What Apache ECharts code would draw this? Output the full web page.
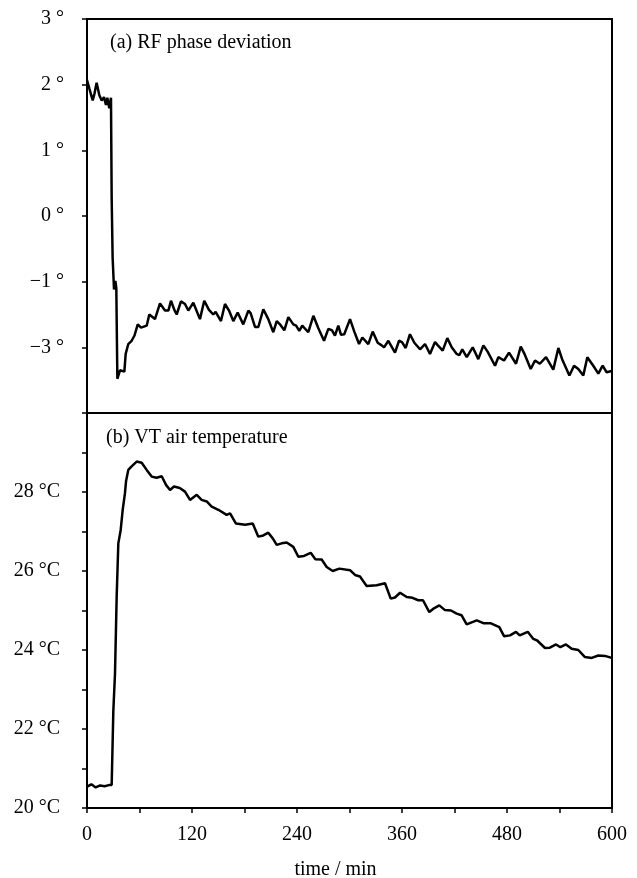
<!DOCTYPE html>
<html>
<head>
<meta charset="utf-8">
<script src="https://cdn.jsdelivr.net/npm/echarts@6/dist/echarts.min.js"></script>
<style>
  html, body { margin: 0; padding: 0; background: #fff; }
  #chart { width: 637px; height: 878px; }
</style>
</head>
<body>
<div id="chart"></div>
<script>
// (a) RF phase deviation, degrees
const phaseTime = [0, 2.7, 6.5, 8.5, 11, 14.1, 16.8, 19.4, 21.7, 23.2, 25.5, 27.4, 28.2, 29.3, 30.9, 32.4, 33.5, 34.7,
  37.7, 42.7, 44.2, 47.2, 51, 54.3, 58, 61.7, 68.2, 71.2, 77.7, 83.4, 89.1, 93, 96, 99.8, 102.5, 107.4,
  112, 115.8, 121.5, 129.1, 134, 139.4, 144.3, 147, 153.1, 157.7, 162.3, 167.2, 172.2, 178.6, 184.4, 187,
  192, 195.8, 201.5, 207.2, 212.9, 216.8, 220.5, 225.5, 230.1, 235.8, 239, 242.6, 246, 252.9, 258.7, 264.4,
  270.9, 275.8, 280, 283.4, 287.2, 290.3, 294, 300.6, 305.5, 310.9, 314.7, 321.5, 326.5, 332.2, 336.8, 339.5,
  344.4, 352, 356.6, 360, 364.2, 369.1, 374.1, 380.6, 386.3, 392, 397.7, 401, 406.5, 411.8, 416.8, 422.5,
  425.5, 428.9, 434, 440.8, 447.2, 453, 458, 466.3, 470.1, 476.6, 482.3, 490.3, 495.7, 500, 507.1, 512,
  517.5, 524.6, 532.9, 538.7, 543, 551.3, 556.6, 561.5, 567.2, 571.8, 578.6, 584.4, 589.3, 593.9, 599.6]
const phaseValue = [2.07, 1.94, 1.76, 1.86, 2.03, 1.84, 1.76, 1.81, 1.69, 1.80, 1.64, 1.80, 0.27, -0.64, -1.12, -0.99, -1.10, -2.48,
  -2.35, -2.37, -2.10, -1.95, -1.90, -1.82, -1.65, -1.70, -1.67, -1.50, -1.57, -1.33, -1.44, -1.44, -1.29, -1.43, -1.50, -1.30,
  -1.34, -1.44, -1.32, -1.57, -1.29, -1.43, -1.50, -1.46, -1.60, -1.34, -1.44, -1.60, -1.47, -1.65, -1.44, -1.48,
  -1.69, -1.69, -1.42, -1.57, -1.77, -1.60, -1.65, -1.74, -1.54, -1.65, -1.67, -1.75, -1.67, -1.77, -1.52, -1.71,
  -1.90, -1.72, -1.74, -1.82, -1.67, -1.81, -1.80, -1.57, -1.76, -1.95, -1.85, -1.95, -1.76, -1.93, -1.97, -2.00,
  -1.90, -2.08, -1.90, -1.92, -2.01, -1.80, -1.93, -2.03, -1.95, -2.10, -1.92, -1.97, -2.05, -1.86, -2.00, -2.10,
  -2.12, -2.03, -2.15, -2.00, -2.18, -1.97, -2.07, -2.28, -2.15, -2.20, -2.08, -2.25, -1.99, -2.10, -2.33, -2.20,
  -2.25, -2.15, -2.34, -2.01, -2.18, -2.43, -2.28, -2.33, -2.43, -2.15, -2.28, -2.40, -2.28, -2.38, -2.36]

// (b) VT air temperature, °C
const tempTime = [0, 5, 10, 15, 20, 25, 28.2, 30.1, 32, 33.9, 35.8, 38.5, 40.8, 43.4, 44.6, 47.2, 51, 56.8, 62.5, 68.2,
  73.9, 79.5, 85.4, 90.3, 94.9, 99.4, 106, 112, 117.7, 125.4, 131, 136.8, 142.5, 150.1, 159.6, 163.5, 170.3, 180.6,
  189.4, 195.8, 201.5, 207.2, 212.5, 216.8, 222.5, 228.2, 235.8, 241.5, 248, 255.7, 261, 268.2, 273.9, 280.8, 288.4,
  300.6, 306.3, 312, 319.6, 331, 340.6, 347.1, 352, 357.8, 365.4, 372, 378.6, 384, 391.2, 395.5, 402.6, 409.1, 416,
  422.5, 428, 433.9, 445.4, 453, 461, 471.2, 476.6, 483.5, 490.3, 494.5, 503.7, 510.1, 514.5, 523.4, 529, 536, 541,
  547.4, 553.9, 561.5, 569.1, 576.8, 584.4, 592, 599.6]
const tempValue = [20.54, 20.60, 20.52, 20.57, 20.55, 20.58, 20.58, 22.46, 23.4, 25.34, 26.7, 27.04, 27.55, 27.97, 28.27, 28.56, 28.65, 28.77, 28.74, 28.56,
  28.39, 28.36, 28.40, 28.18, 28.05, 28.14, 28.10, 28.01, 27.80, 27.93, 27.80, 27.76, 27.63, 27.55, 27.42, 27.46, 27.20, 27.17,
  27.20, 26.87, 26.90, 26.97, 26.82, 26.66, 26.70, 26.72, 26.61, 26.36, 26.38, 26.46, 26.30, 26.29, 26.10, 26.00, 26.06,
  26.02, 25.90, 25.86, 25.62, 25.64, 25.69, 25.30, 25.33, 25.45, 25.34, 25.32, 25.26, 25.26, 24.96, 25.04, 25.13, 25.01, 25.00,
  24.92, 24.88, 24.65, 24.75, 24.68, 24.68, 24.58, 24.35, 24.37, 24.46, 24.37, 24.46, 24.28, 24.24, 24.05, 24.06, 24.14, 24.07,
  24.14, 24.03, 24.00, 23.82, 23.80, 23.86, 23.85, 23.80]

// tick labels as printed (ticks -3..3, 20..30, 0..600 step 60)
const phaseTicks = ['', '\u22123 °', '\u22121 °', '0 °', '1 °', '2 °', '3 °']
const tempTicks = ['20 °C', '', '22 °C', '', '24 °C', '', '26 °C', '', '28 °C', '', '']
const timeTicks = ['0', '', '120', '', '240', '', '360', '', '480', '', '600']

const serif = 'Liberation Serif'
const zip = (xs, ys) => xs.map((x, i) => [x, ys[i]])

const chart = echarts.init(document.getElementById('chart'))
const yCommon = {
  type: 'value',
  interval: 1,
  axisLine: { show: true, lineStyle: { color: '#000', width: 2 } },
  axisTick: { show: true, inside: false, length: 5, lineStyle: { color: '#000', width: 1.5 } },
  splitLine: { show: false },
  axisLabel: { color: '#000', fontFamily: serif, fontSize: 20, margin: 23 },
}
chart.setOption({
  animation: false,
  backgroundColor: '#fff',
  title: [
    { text: '(a) RF phase deviation', left: 110, top: 33, padding: 0,
      textStyle: { fontFamily: serif, fontSize: 20, fontWeight: 'normal', color: '#000' } },
    { text: '(b) VT air temperature', left: 106, top: 428, padding: 0,
      textStyle: { fontFamily: serif, fontSize: 20, fontWeight: 'normal', color: '#000' } },
  ],
  grid: [
    { left: 87, top: 19, width: 525, height: 394, show: true, borderColor: '#000', borderWidth: 2, outerBoundsMode: 'none' },
    { left: 87, top: 413, width: 525, height: 395, show: true, borderColor: '#000', borderWidth: 2, outerBoundsMode: 'none' },
  ],
  xAxis: [
    { gridIndex: 0, type: 'value', min: 0, max: 600, interval: 60, show: false },
    {
      gridIndex: 1, type: 'value', min: 0, max: 600, interval: 60,
      name: 'time / min', nameLocation: 'middle', nameGap: 52,
      nameTextStyle: { fontFamily: serif, fontSize: 20, color: '#000', padding: [0, 28, 0, 0] },
      axisLine: { show: true, lineStyle: { color: '#000', width: 2 } },
      axisTick: { show: true, length: 5, lineStyle: { color: '#000', width: 1.5 } },
      splitLine: { show: false },
      axisLabel: {
        color: '#000', fontFamily: serif, fontSize: 20, margin: 17,
        formatter: (v) => timeTicks[Math.round(v / 60)],
      },
    },
  ],
  yAxis: [
    Object.assign({}, yCommon, {
      gridIndex: 0, min: -3, max: 3,
      axisLabel: Object.assign({}, yCommon.axisLabel, { formatter: (v) => phaseTicks[Math.round(v) + 3] }),
    }),
    Object.assign({}, yCommon, {
      gridIndex: 1, min: 20, max: 30,
      axisLabel: Object.assign({}, yCommon.axisLabel, { margin: 27, formatter: (v) => tempTicks[Math.round(v) - 20] }),
    }),
  ],
  series: [
    {
      type: 'line', xAxisIndex: 0, yAxisIndex: 0, showSymbol: false,
      lineStyle: { color: '#000', width: 2.5 },
      data: zip(phaseTime, phaseValue),
    },
    {
      type: 'line', xAxisIndex: 1, yAxisIndex: 1, showSymbol: false,
      lineStyle: { color: '#000', width: 2.5 },
      data: zip(tempTime, tempValue),
    },
  ],
})
</script>
</body>
</html>
